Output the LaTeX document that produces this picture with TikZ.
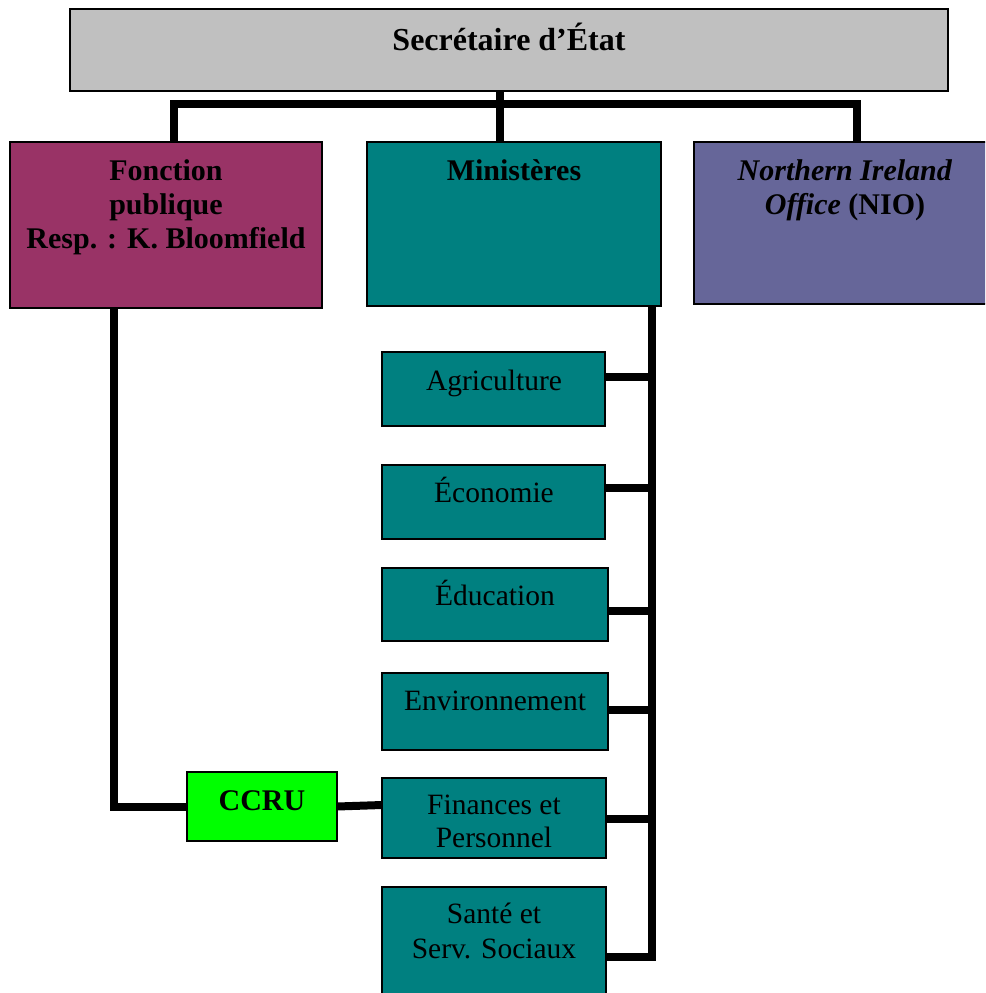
\documentclass[tikz,border=0pt]{standalone}
\usepackage{fontspec}
\setmainfont{Liberation Serif}
\definecolor{greybox}{HTML}{C0C0C0}
\definecolor{plum}{HTML}{993366}
\definecolor{tealbox}{HTML}{008080}
\definecolor{slate}{HTML}{666699}
\definecolor{lime}{HTML}{00FF00}

\begin{document}
\begin{tikzpicture}[x=1pt,y=-1pt,
    unit/.style={draw,line width=1.6pt,anchor=north west,inner sep=0pt,outer sep=0pt},
    lbl/.style={anchor=base,align=center,inner sep=0pt,font=\fontsize{29.5}{35}\selectfont},
    bold/.style={lbl,font=\bfseries\fontsize{30}{34}\selectfont},
    link/.style={line width=8pt}]

\useasboundingbox (0,0) rectangle (985,993);
\clip (0,0) rectangle (985,993);

% boxes
\node[unit,fill=greybox,minimum width=878pt,minimum height=82pt] (sec) at (70,9) {};
\node[unit,fill=plum,minimum width=312pt,minimum height=166pt] (fp) at (10,142) {};
\node[unit,fill=tealbox,minimum width=294pt,minimum height=164pt] (min) at (367,142) {};
\node[unit,fill=slate,minimum width=300pt,minimum height=162pt] (nio) at (694,142) {};

\node[unit,fill=tealbox,minimum width=223pt,minimum height=74pt] (agri) at (382,352) {};
\node[unit,fill=tealbox,minimum width=223pt,minimum height=74pt] (econ) at (382,465) {};
\node[unit,fill=tealbox,minimum width=226pt,minimum height=73pt] (educ) at (382,568) {};
\node[unit,fill=tealbox,minimum width=226pt,minimum height=77pt] (envi) at (382,673) {};
\node[unit,fill=tealbox,minimum width=224pt,minimum height=80pt] (fin) at (382,778) {};
\node[unit,fill=tealbox,minimum width=224pt,minimum height=140pt] (sante) at (382,887) {};
\node[unit,fill=lime,minimum width=150pt,minimum height=69pt] (ccru) at (187,772) {};

% texts (base = last line)
\node[bold,font=\bfseries\fontsize{32}{36}\selectfont] (sectxt) at (509,50) {Secrétaire d’État};
\node[bold] (fptxt) at (166,248) {Fonction\\publique\\Resp. : K. Bloomfield};
\node[bold] (mintxt) at (514,180) {Ministères};
\node[bold] (niotxt) at (845,214) {\textit{Northern Ireland}\\\textit{Office} (NIO)};
\node[lbl] (agritxt) at (494,390) {Agriculture};
\node[lbl] (econtxt) at (494,502) {Économie};
\node[lbl] (eductxt) at (495,605) {Éducation};
\node[lbl] (envitxt) at (495,710) {Environnement};
\node[lbl,font=\fontsize{29.5}{33}\selectfont] (fintxt) at (494,847) {Finances et\\Personnel};
\node[lbl] (santetxt) at (494,958) {Santé et\\Serv. Sociaux};
\node[bold] (ccrutxt) at (262,810) {CCRU};

% connectors
\coordinate (stem) at (500,104);
\coordinate (barL) at (174,104);
\coordinate (barR) at (857,104);
\draw[link] (stem |- sec.south) -- (stem |- min.north);
\draw[link] (barL |- fp.north) -- (barL) -- (barR) -- (barR |- nio.north);

\coordinate (trunk) at (652,306);
\coordinate (trunkend) at (652,961);
\draw[link] (trunk) -- (trunkend);
\foreach \Name/\Shift in {agri/12, econ/14, educ/-6.5, envi/1.5, fin/-1, sante/0}{
    \draw[link] ([yshift=\Shift pt]\Name.east) coordinate (a) -- ([xshift=4pt]a -| trunk);
}

\coordinate (fpleg) at (114,308);
\draw[link] (fpleg) |- (ccru.west);
\draw[link] (ccru.east) -- ([yshift=13pt]fin.west);
\end{tikzpicture}
\end{document}
